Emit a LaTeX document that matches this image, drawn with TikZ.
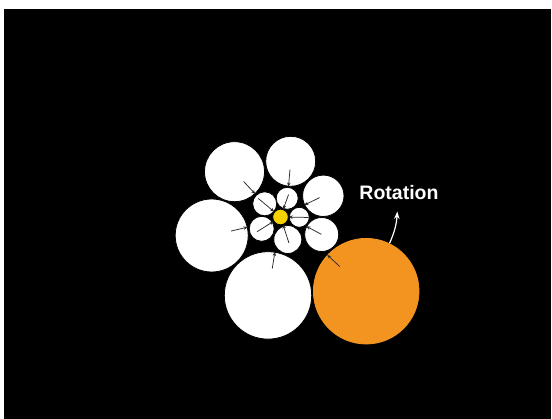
\documentclass[tikz,border=0pt]{standalone}
\usepackage{fontspec}
\setmainfont{Liberation Sans}
\usetikzlibrary{arrows.meta,calc}
\definecolor{Orange}{HTML}{F39420}
\definecolor{Yellow}{HTML}{F5D100}
\definecolor{Ink}{HTML}{2A2A2A}

\begin{document}
\begin{tikzpicture}[x=1pt,y=-1pt,
    pet/.style={circle,draw=black,line width=0.8pt,fill=white,inner sep=0pt,minimum size=#1},
    ar/.style={-{Stealth[length=4pt,width=3.4pt]},line width=0.75pt,draw=Ink},
    rar/.style={-{Stealth[length=7.5pt,width=5.5pt]},line width=1.2pt,draw=white}]
    \fill[white] (0,0) rectangle (552,419);
    \fill[black] (4,9) rectangle (551,419);
    \useasboundingbox (0,0) rectangle (552,419);
    % outer petals
    \node[pet=60pt] (tl) at (234.5,171.7) {};
    \node[pet=50pt] (tp) at (290.7,161.3) {};
    \node[pet=41.4pt] (ur) at (323.3,195.8) {};
    \node[pet=34pt] (lr) at (321.7,234.5) {};
    \node[pet=73pt] (lf) at (211.7,235.5) {};
    \node[pet=87.4pt] (bt) at (268,295.4) {};
    \node[pet=105.6pt,fill=Orange,draw=Orange] (or) at (366.2,291.2) {};
    % inner petals
    \node[pet=20pt] (s1) at (299.3,217.3) {};
    \node[pet=22pt] (s2) at (287.2,198.3) {};
    \node[pet=24pt] (s3) at (264.7,203.8) {};
    \node[pet=25pt] (s4) at (261.7,228.8) {};
    \node[pet=28pt] (s5) at (287.8,239.5) {};
    \node[pet=15.6pt,fill=Yellow] (yc) at (280.5,217) {};
    % arrows
    \foreach \s/\f in {s1/1.5,s2/1.2,s3/1.4,s4/1.25,s5/1.15}
      \draw[ar] ($(yc)!\f!(\s)$) -- (yc);
    \foreach \n/\a in {tl/-47,tp/-95,ur/206,lr/152,lf/13,bt/81,or/137}
      \draw[ar] ($(\n.\a)!17pt!(\n.center)$) -- (\n.\a);
    % rotation
    \node[font=\bfseries\fontsize{19.5}{22}\selectfont,text=white] (lbl) at (399,193) {Rotation};
    \coordinate (tip) at (397.3,211.5);
    \draw[rar] (or.64) to[bend right=10] (tip);
\end{tikzpicture}
\end{document}
